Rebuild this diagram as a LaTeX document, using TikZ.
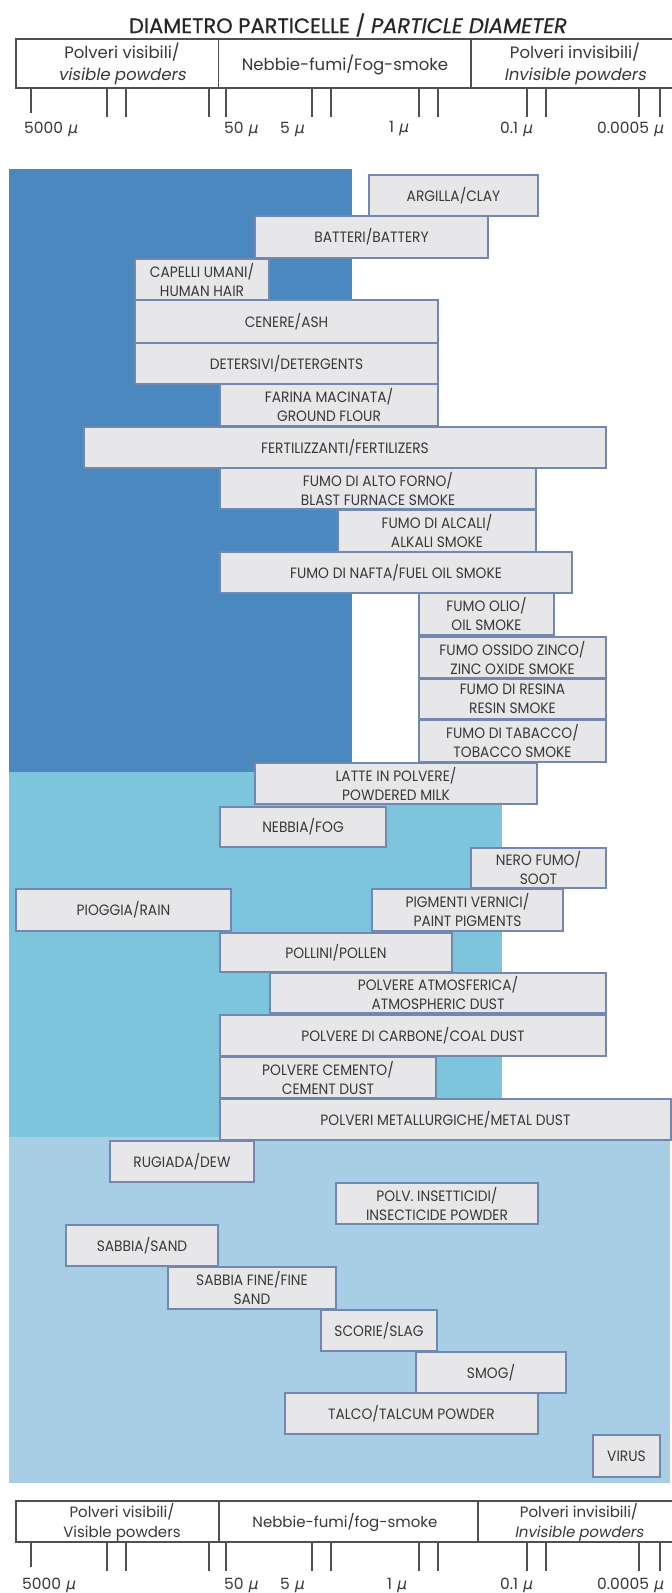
\documentclass[tikz,border=0pt]{standalone}
\usepackage{fontspec}
\setmainfont{Poppins}[ItalicFont=Poppins,ItalicFeatures={FakeSlant=0.18}]
\newfontfamily\lab[FakeStretch=0.92]{Poppins}
\newfontfamily\ttl[FakeBold=0.6]{Poppins}
\newfontfamily\mufont[FakeSlant=0.2]{DejaVu Sans}
\usetikzlibrary{fit}
\definecolor{dkblue}{HTML}{4A88BF}
\definecolor{mdblue}{HTML}{7DC5DC}
\definecolor{ltblue}{HTML}{A7CEE4}
\definecolor{boxc}{HTML}{E7E7E9}
\definecolor{bordc}{HTML}{7288B0}
\definecolor{txtc}{HTML}{383838}
\definecolor{linec}{HTML}{505050}
\newcommand{\mic}{{\mufont μ}}
\newcommand{\lb}[6]{\node[lblbox, fit={(#2,#3) (#4,#5)}] (#1) {};
  \node[lbltxt] (#1t) at (#1.center) {#6};}
\begin{document}
\begin{tikzpicture}[x=1pt,y=-1pt,
  lblbox/.style={draw=bordc, line width=1.6pt, fill=boxc, inner sep=0pt},
  lbltxt/.style={inner sep=0pt, align=center, text=txtc, font=\lab\fontsize{15}{19}\selectfont},
  hdr/.style={draw=linec, line width=1.4pt},
  tickln/.style={draw=linec, line width=1.3pt},
  htxt/.style={text=txtc, font=\fontsize{16.5}{22}\selectfont, align=center, inner sep=0pt},
  btxt/.style={text=txtc, font=\fontsize{15}{20}\selectfont, align=center, inner sep=0pt},
  ttxt/.style={text=txtc, font=\fontsize{15.5}{17}\selectfont, anchor=west, inner sep=0pt},
  titletxt/.style={text=black!85, font=\ttl\fontsize{21}{24}\selectfont, inner sep=0pt}]
\useasboundingbox[fill=white] (0,0) rectangle (672,1593);
% background bands
\fill[dkblue] (9,169) rectangle (352,772);
\fill[mdblue] (9,772) rectangle (502,1137);
\fill[ltblue] (9,1137) rectangle (670,1483);
% title
\node[titletxt] (title) at (348,25) {DIAMETRO PARTICELLE / \textit{PARTICLE DIAMETER}};
% top scale
\draw[hdr] (672,39) -- (16,39) -- (16,88) -- (672,88);
\draw[hdr] (218.6,39) -- (218.6,88);
\draw[hdr] (471,39) -- (471,88);
\node[htxt] (tvis) at (122,63.5) {Polveri visibili/\\\textit{visible powders}};
\node[htxt] (tfog) at (345,65) {Nebbie-fumi/Fog-smoke};
\node[htxt] (tinv) at (575,63.5) {Polveri invisibili/\\\textit{Invisible powders}};
\foreach \x in {107,126,209,226,312,331,419,438,527,546,639,660} \draw[tickln] (\x,88) -- (\x,117);
\draw[tickln] (31,88) -- (31,113);
\node[ttxt] (t1) at (24,129) {5000 \mic};
\node[ttxt] (t2) at (224,129) {50 \mic};
\node[ttxt] (t3) at (280,129) {5 \mic};
\node[ttxt] (t4) at (389,129) {1 \mic};
\node[ttxt] (t5) at (500,129) {0.1 \mic};
\node[ttxt] (t6) at (597,129) {0.0005 \mic};
% boxes
\lb{argilla}{369}{175}{538}{216}{ARGILLA/CLAY}
\lb{batteri}{255}{216}{488}{258}{BATTERI/BATTERY}
\lb{capelli}{135}{259}{269}{300}{CAPELLI UMANI/\\HUMAN HAIR}
\lb{cenere}{135}{300}{438}{343}{CENERE/ASH}
\lb{detersivi}{135}{343}{438}{384}{DETERSIVI/DETERGENTS}
\lb{farina}{220}{384}{438}{426}{FARINA MACINATA/\\GROUND FLOUR}
\lb{fert}{84}{427}{606}{468}{FERTILIZZANTI/FERTILIZERS}
\lb{altoforno}{220}{468}{536}{509}{FUMO DI ALTO FORNO/\\BLAST FURNACE SMOKE}
\lb{alcali}{338}{510}{536}{552}{FUMO DI ALCALI/\\ALKALI SMOKE}
\lb{nafta}{220}{552}{572}{593}{FUMO DI NAFTA/FUEL OIL SMOKE}
\lb{olio}{419}{593}{554}{635}{FUMO OLIO/\\OIL SMOKE}
\lb{zinco}{419}{637}{606}{678}{FUMO OSSIDO ZINCO/\\ZINC OXIDE SMOKE}
\lb{resina}{419}{679}{606}{719}{FUMO DI RESINA\\RESIN SMOKE}
\lb{tabacco}{419}{720}{606}{762}{FUMO DI TABACCO/\\TOBACCO SMOKE}
\lb{latte}{255}{763}{537}{804}{LATTE IN POLVERE/\\POWDERED MILK}
\lb{nebbia}{220}{807}{386}{847}{NEBBIA/FOG}
\lb{nero}{471}{848}{606}{888}{NERO FUMO/\\SOOT}
\lb{pioggia}{16}{889}{231}{931}{PIOGGIA/RAIN}
\lb{pigmenti}{372}{889}{563}{931}{PIGMENTI VERNICI/\\PAINT PIGMENTS}
\lb{pollini}{220}{933}{452}{972}{POLLINI/POLLEN}
\lb{atmo}{270}{973}{606}{1013}{POLVERE ATMOSFERICA/\\ATMOSPHERIC DUST}
\lb{carbone}{220}{1015}{606}{1056}{POLVERE DI CARBONE/COAL DUST}
\lb{cemento}{220}{1057}{436}{1098}{POLVERE CEMENTO/\\CEMENT DUST}
\lb{metal}{220}{1099}{671}{1140}{POLVERI METALLURGICHE/METAL DUST}
\lb{rugiada}{110}{1141}{254}{1182}{RUGIADA/DEW}
\lb{insetti}{336}{1183}{538}{1224}{POLV. INSETTICIDI/\\INSECTICIDE POWDER}
\lb{sabbia}{66}{1225}{218}{1266}{SABBIA/SAND}
\lb{sabbiaf}{168}{1267}{336}{1309}{SABBIA FINE/FINE\\SAND}
\lb{scorie}{321}{1310}{437}{1351}{SCORIE/SLAG}
\lb{smog}{416}{1352}{566}{1393}{SMOG/}
\lb{talco}{285}{1393}{538}{1434}{TALCO/TALCUM POWDER}
\lb{virus}{593}{1435}{660}{1477}{VIRUS}
% bottom scale
\draw[hdr] (672,1501) -- (16,1501) -- (16,1542) -- (672,1542);
\draw[hdr] (219,1501) -- (219,1542);
\draw[hdr] (478,1501) -- (478,1542);
\node[btxt] (bvis) at (122,1522) {Polveri visibili/\\Visible powders};
\node[btxt] (bfog) at (345,1522) {Nebbie-fumi/fog-smoke};
\node[btxt] (binv) at (579,1522) {Polveri invisibili/\\\textit{Invisible powders}};
\foreach \x in {107,126,209,226,312,331,419,438,527,546,639,660} \draw[tickln] (\x,1542) -- (\x,1571);
\draw[tickln] (31,1542) -- (31,1567);
\node[ttxt] (b1) at (22,1585) {5000 \mic};
\node[ttxt] (b2) at (224,1585) {50 \mic};
\node[ttxt] (b3) at (280,1585) {5 \mic};
\node[ttxt] (b4) at (387,1585) {1 \mic};
\node[ttxt] (b5) at (500,1585) {0.1 \mic};
\node[ttxt] (b6) at (597,1585) {0.0005 \mic};
\end{tikzpicture}
\end{document}
